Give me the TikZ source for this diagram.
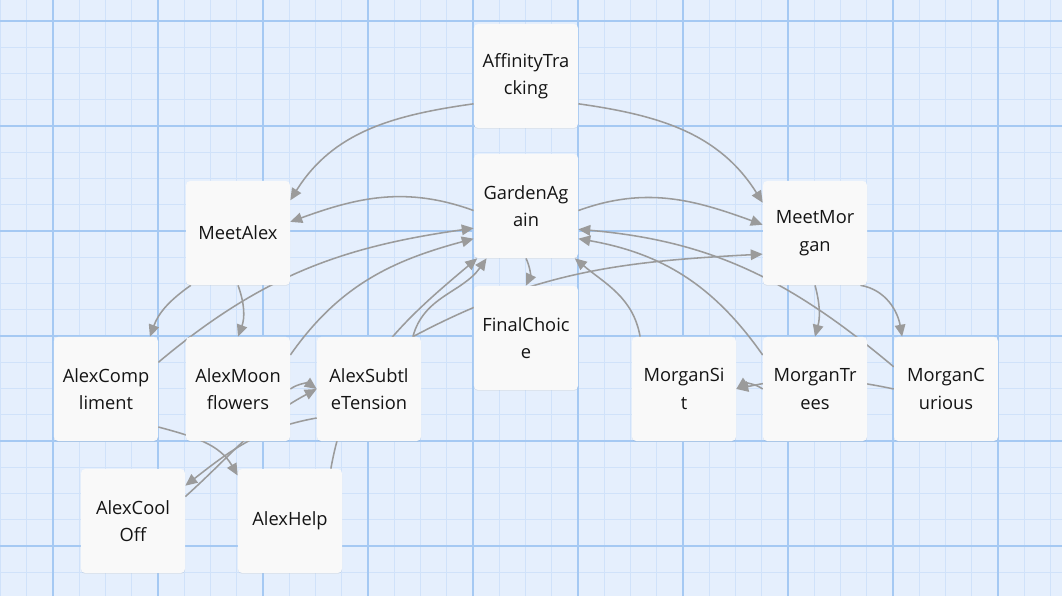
\documentclass[tikz,border=0pt]{standalone}
\usepackage{fontspec}
\setmainfont{Open Sans}
\usepackage{tikz}
\usetikzlibrary{arrows.meta,backgrounds,shadows}
\definecolor{paper}{RGB}{229,239,253}
\definecolor{minorgrid}{RGB}{208,226,250}
\definecolor{majorgrid}{RGB}{165,201,243}
\definecolor{cardfill}{RGB}{249,249,249}
\definecolor{linkgray}{RGB}{155,155,155}

\begin{document}
\begin{tikzpicture}[
  x=0.025cm, y=0.025cm,
  >={Triangle[length=8.5pt,width=7.5pt]},
  card/.style={rectangle, rounded corners=3pt, fill=cardfill,
    minimum width=2.6cm, minimum height=2.6cm, align=center,
    text=black!92, font=\fontsize{13}{19.5}\selectfont,
    drop shadow={shadow xshift=0pt, shadow yshift=-0.7pt, opacity=0.12}},
  link/.style={->, draw=linkgray, line width=1.1pt},
  minor/.style={minorgrid, line width=0.6pt},
  major/.style={majorgrid, line width=0.9pt}
]
  \useasboundingbox (0,0) rectangle (1062,596);

  % top row
  \node[card] (AT) at (526,520) {AffinityTra\\cking};
  \node[card] (GA) at (526,390) {GardenAg\\ain};
  \node[card] (MA) at (238,363) {MeetAlex};
  \node[card] (MM) at (815,363) {MeetMor\\gan};
  \node[card] (FC) at (526,258) {FinalChoic\\e};

  % Alex branch
  \node[card] (AC) at (106,207) {AlexComp\\liment};
  \node[card] (AMF) at (238,207) {AlexMoon\\flowers};
  \node[card] (AST) at (369,207) {AlexSubtl\\eTension};
  \node[card] (ACO) at (133,75) {AlexCool\\Off};
  \node[card] (AH) at (290,75) {AlexHelp};

  % Morgan branch
  \node[card] (MS) at (684,207) {MorganSi\\t};
  \node[card] (MT) at (815,207) {MorganTr\\ees};
  \node[card] (MC) at (946,207) {MorganC\\urious};

  \begin{scope}[on background layer]
    \fill[paper] (0,0) rectangle (1062,596);
    \draw[minor] \foreach \x in {0.5,26.75,...,1062} {(\x,0) -- (\x,596)};
    \draw[minor] \foreach \y in {575,548.75,...,0} {(0,\y) -- (1062,\y)};
    \draw[major] \foreach \x in {53,158,...,1062} {(\x,0) -- (\x,596)};
    \draw[major] \foreach \y in {575,470,...,0} {(0,\y) -- (1062,\y)};

    \draw[link] (AT.208) to[out=188,in=58] (MA.32);
    \draw[link] (AT.-28) to[out=-8,in=122] (MM.150);
    \draw[link] (GA.185) to[out=160,in=20] (MA.12);
    \draw[link] (GA.-5) to[out=20,in=160] (MM.171);
    \draw[link] (GA.south) to[bend left=25] (FC.north);

    \draw[link] (MA.228) to[out=215,in=70] (AC.50);
    \draw[link] (MA.south) to[bend left=20] (AMF.north);
    \draw[link] (AC.27) to[out=40,in=188] (GA.203);
    \draw[link] (AMF.33) to[out=55,in=195] (GA.212);
    \draw[link] (AMF.east) to[bend left=35] (AST.west);
    \draw[link] (ACO.25) to[out=42,in=208] (AST.west);
    \draw[link] (AST.209) to[out=190,in=38] (ACO.34);
    \draw[link] (AC.-36) to[out=-15,in=120] (AH.139);
    \draw[link] (AH.52) to[out=80,in=220] (GA.227);
    \draw[link] (AST.50) to[out=75,in=235] (GA.233);
    \draw[link] (AST.50) to[out=28,in=183] (MM.202);

    \draw[link] (MM.south) to[bend left=15] (MT.north);
    \draw[link] (MM.-49) to[out=-10,in=100] (MC.130);
    \draw[link] (MS.130) to[out=100,in=-40] (GA.-47);
    \draw[link] (MT.147) to[out=125,in=-10] (GA.-32);
    \draw[link] (MC.157) to[out=140,in=-5] (GA.-24);
    \draw[link] (MT.west) to[bend right=35] (MS.east);
    \draw[link] (MC.west) to[bend right=12] (MS.east);
  \end{scope}
\end{tikzpicture}
\end{document}
